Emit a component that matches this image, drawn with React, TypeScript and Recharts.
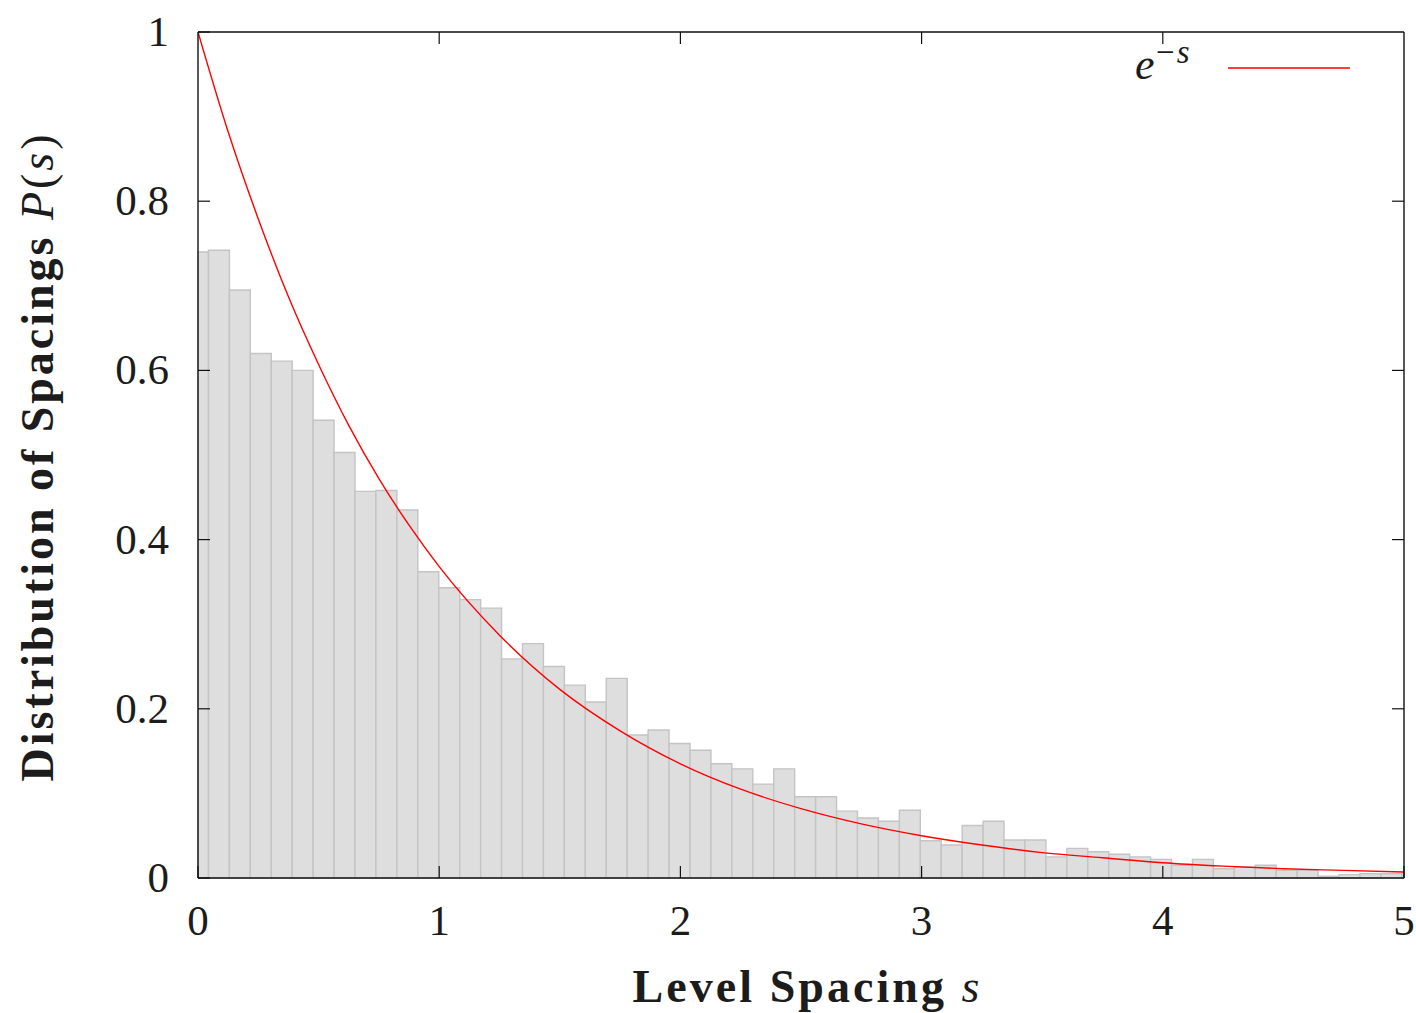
import React from 'react';
import { ComposedChart, XAxis, YAxis, Line, ReferenceArea, Legend, Label } from 'recharts';

const X_TICKS = [0, 1, 2, 3, 4, 5];
const X_TICK_LABELS = ['0', '1', '2', '3', '4', '5'];
const Y_TICKS = [0, 0.2, 0.4, 0.6, 0.8, 1];
const Y_TICK_LABELS = ['0', '0.2', '0.4', '0.6', '0.8', '1'];
const TOP_TICKS = [1, 2, 3, 4];
const RIGHT_TICKS = [0.2, 0.4, 0.6, 0.8];

// histogram: bins centred at k * BIN_WIDTH
const BIN_WIDTH = 0.0868;
const HIST_VALUES = [
  0.740, 0.742, 0.695, 0.620, 0.611, 0.600, 0.541, 0.503, 0.457, 0.458,
  0.435, 0.362, 0.343, 0.329, 0.319, 0.259, 0.277, 0.250, 0.228, 0.208,
  0.236, 0.169, 0.175, 0.159, 0.151, 0.135, 0.129, 0.111, 0.129, 0.096,
  0.096, 0.079, 0.071, 0.067, 0.080, 0.044, 0.039, 0.062, 0.067, 0.045,
  0.045, 0.025, 0.035, 0.031, 0.028, 0.025, 0.022, 0.015, 0.022, 0.011,
  0.013, 0.015, 0.009, 0.009, 0.002, 0.004, 0.005, 0.005, 0.005,
];

// red reference curve
const CURVE_S = [0, 0.125, 0.25, 0.375, 0.5, 0.625, 0.75, 0.875, 1, 1.25, 1.5, 1.75, 2, 2.25, 2.5, 2.75, 3, 3.25, 3.5, 3.75, 4, 4.25, 4.5, 4.75, 5];
const CURVE_P = [1.0, 0.882, 0.779, 0.687, 0.607, 0.535, 0.472, 0.417, 0.368, 0.287, 0.223, 0.174, 0.135, 0.105, 0.082, 0.064, 0.050, 0.039, 0.030, 0.024, 0.018, 0.014, 0.011, 0.009, 0.007];

const X_MAX = 5;
const curveData = CURVE_S.map((s, i) => ({ s, p: CURVE_P[i] }));
const bins = HIST_VALUES.map((v, k) => ({
  x1: Math.max(0, k * BIN_WIDTH - BIN_WIDTH / 2),
  x2: Math.min(X_MAX, k * BIN_WIDTH + BIN_WIDTH / 2),
  v,
}));

const FONT = '"Liberation Serif", "Times New Roman", serif';
const TEXT = '#1c1c1c';
const AXIS = '#111';

const XTick = (props: any) => {
  const { x, y, payload } = props;
  const idx = X_TICKS.indexOf(payload.value);
  return (
    <text x={x} y={y + 69} textAnchor="middle" fontFamily={FONT} fontSize={43} fill={TEXT}>
      {idx >= 0 ? X_TICK_LABELS[idx] : String(payload.value)}
    </text>
  );
};

const YTick = (props: any) => {
  const { x, y, payload } = props;
  const idx = Y_TICKS.indexOf(payload.value);
  return (
    <text x={x - 41} y={y + 14} textAnchor="end" fontFamily={FONT} fontSize={43} fill={TEXT}>
      {idx >= 0 ? Y_TICK_LABELS[idx] : String(payload.value)}
    </text>
  );
};

const NoLabel = () => <g />;

const XTitle = (props: any) => {
  const vb = props.viewBox || { x: 198, y: 878, width: 1206, height: 60 };
  const cx = vb.x + vb.width / 2 + 5;
  const cy = vb.y + 124;
  return (
    <text x={cx} y={cy} textAnchor="middle" fontFamily={FONT} fontSize={46} fill={TEXT} textLength={347} lengthAdjust="spacing">
      <tspan fontWeight="bold">Level Spacing </tspan>
      <tspan fontStyle="italic">s</tspan>
    </text>
  );
};

const YTitle = (props: any) => {
  const vb = props.viewBox || { x: 98, y: 32, width: 100, height: 846 };
  const cx = vb.x - 45;
  const cy = vb.y + vb.height / 2 + 3;
  return (
    <text
      x={cx}
      y={cy}
      transform={`rotate(-90 ${cx} ${cy})`}
      textAnchor="middle"
      fontFamily={FONT}
      fontSize={46}
      fill={TEXT}
      textLength={647}
      lengthAdjust="spacing"
    >
      <tspan fontWeight="bold">Distribution of Spacings </tspan>
      <tspan fontStyle="italic">P</tspan>
      <tspan>(</tspan>
      <tspan fontStyle="italic">s</tspan>
      <tspan>)</tspan>
    </text>
  );
};

const LegendContent = (props: any) => {
  const item = props.payload && props.payload[0];
  const color = (item && item.color) || '#ff0000';
  return (
    <svg width={260} height={70} style={{ display: 'block' }}>
      <text x={15} y={49} fontFamily={FONT} fontSize={44} fontStyle="italic" fill={TEXT}>e</text>
      <text x={36} y={33} fontFamily={FONT} fontSize={33} fill={TEXT}>
        <tspan>−</tspan>
        <tspan fontStyle="italic" dx={2}>s</tspan>
      </text>
      <line x1={108} x2={230} y1={38} y2={38} stroke={color} strokeWidth={1.5} />
    </svg>
  );
};

export default function App() {
  return (
    <div style={{ position: 'absolute', left: 0, top: 0, width: 1416, height: 1013, background: '#fff' }}>
      <ComposedChart width={1416} height={1013} margin={{ top: 31, right: 11, bottom: 75, left: 98 }}>
        <XAxis
          xAxisId="b"
          dataKey="s"
          type="number"
          orientation="bottom"
          domain={[0, X_MAX]}
          allowDataOverflow
          ticks={X_TICKS}
          interval={0}
          height={60}
          tickSize={-12}
          tickMargin={0}
          tick={<XTick />}
          tickLine={{ stroke: AXIS, strokeWidth: 1.2 }}
          axisLine={{ stroke: AXIS, strokeWidth: 1.4 }}
          label={<Label content={<XTitle />} />}
        />
        <XAxis
          xAxisId="t"
          dataKey="s"
          type="number"
          orientation="top"
          domain={[0, X_MAX]}
          allowDataOverflow
          ticks={TOP_TICKS}
          interval={0}
          height={1}
          tickSize={-12}
          tickMargin={0}
          tick={<NoLabel />}
          tickLine={{ stroke: AXIS, strokeWidth: 1.2 }}
          axisLine={{ stroke: AXIS, strokeWidth: 1.4 }}
        />
        <YAxis
          yAxisId="l"
          type="number"
          orientation="left"
          domain={[0, 1]}
          allowDataOverflow
          ticks={Y_TICKS}
          interval={0}
          width={100}
          tickSize={-12}
          tickMargin={0}
          tick={<YTick />}
          tickLine={{ stroke: AXIS, strokeWidth: 1.2 }}
          axisLine={{ stroke: AXIS, strokeWidth: 1.4 }}
          label={<Label content={<YTitle />} />}
        />
        <YAxis
          yAxisId="r"
          type="number"
          orientation="right"
          domain={[0, 1]}
          allowDataOverflow
          ticks={RIGHT_TICKS}
          interval={0}
          width={1}
          tickSize={-12}
          tickMargin={0}
          tick={<NoLabel />}
          tickLine={{ stroke: AXIS, strokeWidth: 1.2 }}
          axisLine={{ stroke: AXIS, strokeWidth: 1.4 }}
        />
        {bins.map((b, i) => (
          <ReferenceArea
            key={`bin-${i}`}
            xAxisId="b"
            yAxisId="l"
            x1={b.x1}
            x2={b.x2}
            y1={0}
            y2={b.v}
            fill="#dedede"
            fillOpacity={1}
            stroke="#c4c4c4"
            strokeWidth={1.4}
            ifOverflow="visible"
          />
        ))}
        <Line
          xAxisId="b"
          yAxisId="l"
          data={curveData}
          dataKey="p"
          name="e^-s"
          type="monotone"
          stroke="#ff0000"
          strokeWidth={1.4}
          dot={false}
          activeDot={false}
          isAnimationActive={false}
        />
        <Legend
          layout="horizontal"
          verticalAlign="middle"
          align="center"
          content={<LegendContent />}
          wrapperStyle={{ left: 1120, top: 30, width: 260, height: 70 }}
        />
      </ComposedChart>
    </div>
  );
}
